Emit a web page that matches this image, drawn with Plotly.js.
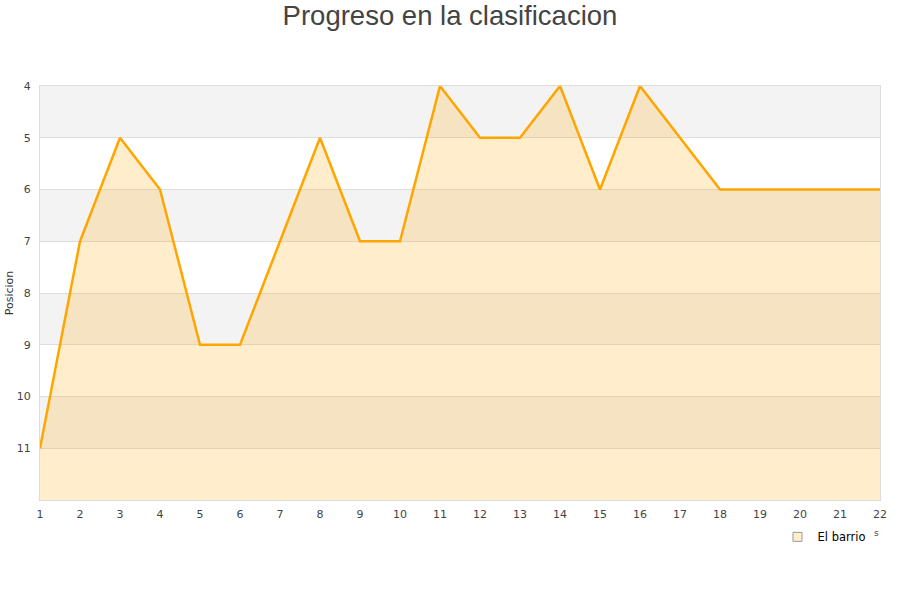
<!DOCTYPE html>
<html>
<head>
<meta charset="utf-8">
<script src="https://cdn.plot.ly/plotly-3.0.1.min.js"></script>
<style>html,body{margin:0;padding:0;background:#fff;}#chart{width:900px;height:600px;}</style>
</head>
<body>
<div id="chart"></div>
<script>
var jornadas = [1,2,3,4,5,6,7,8,9,10,11,12,13,14,15,16,17,18,19,20,21,22];
var posicion = [11,7,5,6,9,9,7,5,7,7,4,5,5,4,6,4,5,6,6,6,6,6];
var yTicks = [4,5,6,7,8,9,10,11];
var grayBands = [[4,5],[6,7],[8,9],[10,11]];
var baseline = 12;
var seriesName = 'El barrio';

var base = {
  x: jornadas, y: jornadas.map(function(){return baseline;}),
  mode: 'lines', line: {width: 0, color: 'rgba(0,0,0,0)'},
  showlegend: false, hoverinfo: 'skip'
};
var main = {
  x: jornadas, y: posicion, mode: 'lines', fill: 'tonexty',
  fillcolor: 'rgba(255,165,0,0.2)',
  line: {color: '#FFA500', width: 2.5},
  showlegend: false, name: seriesName
};
var legendTrace = {
  x: [null], y: [null], mode: 'markers', name: seriesName,
  marker: {symbol: 'square', size: 9, color: '#FFEECC', line: {color: '#999', width: 1}}
};

var shapes = grayBands.map(function(b){
  return {type: 'rect', xref: 'paper', x0: 0, x1: 1, yref: 'y', y0: b[0], y1: b[1],
          fillcolor: '#f3f3f3', line: {width: 0}, layer: 'below'};
});

var layout = {
  width: 900, height: 600,
  margin: {l: 40, r: 20, t: 86, b: 100},
  paper_bgcolor: '#fff', plot_bgcolor: '#fff',
  title: {text: 'Progreso en la clasificacion', font: {family: 'Liberation Sans, Arial, sans-serif', size: 27.5, color: '#444'},
          x: 0.5, xanchor: 'center', y: 0.975, yanchor: 'middle'},
  xaxis: {range: [1, 22], tickvals: jornadas, showgrid: false, zeroline: false,
          showline: true, linecolor: '#ddd', mirror: true,
          tickfont: {family: 'DejaVu Sans, sans-serif', size: 11, color: '#444'},
          ticks: '', ticklabelstandoff: 4, automargin: false},
  yaxis: {range: [baseline, 4], tickvals: yTicks, showgrid: true, gridcolor: '#ddd', zeroline: false,
          showline: true, linecolor: '#ddd', mirror: true,
          tickfont: {family: 'DejaVu Sans, sans-serif', size: 11, color: '#444'},
          ticks: '', ticklabelstandoff: 6, automargin: false,
          title: {text: 'Posicion', font: {family: 'DejaVu Sans, sans-serif', size: 11, color: '#333'}, standoff: 0}},
  shapes: shapes,
  showlegend: true,
  legend: {x: 0.878, xanchor: 'left', y: -0.089, yanchor: 'middle', bgcolor: 'rgba(0,0,0,0)',
           font: {family: 'DejaVu Sans, sans-serif', size: 11.5, color: '#000'}},
  annotations: [{text: 's', xref: 'paper', yref: 'paper', x: 1.001, y: -0.096, showarrow: false,
                 font: {family: 'DejaVu Sans, sans-serif', size: 9, color: '#444'}}]
};

Plotly.newPlot('chart', [base, main, legendTrace], layout, {displayModeBar: false, staticPlot: true});
</script>
</body>
</html>
